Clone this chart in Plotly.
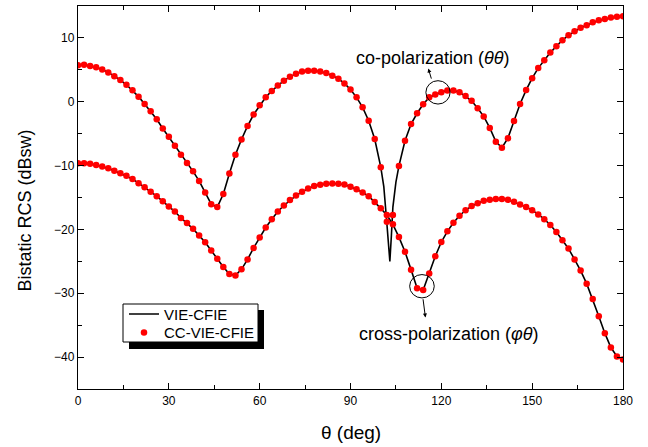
import plotly.graph_objects as go

# ---- data ----
theta = list(range(0, 181, 2))  # degrees, CC-VIE-CFIE sample points

co_pol = [5.73, 5.8, 5.6, 5.4, 5.06, 4.6, 4.0, 3.4, 2.66, 1.8,
          0.8, -0.36, -1.5, -2.75, -4.2, -5.5, -6.9, -8.3, -9.6, -10.9,
          -12.4, -14.2, -16.05, -16.5, -14.45, -11.25, -8.3, -5.9, -3.8, -2.0,
          -0.56, 0.7, 1.7, 2.56, 3.3, 3.9, 4.4, 4.75, 4.84, 4.84,
          4.75, 4.5, 4.06, 3.6, 2.87, 1.93, 0.69, -0.88, -2.97, -5.83,
          -10.25, -18.8, -17.75, -10.05, -6.1, -3.5, -1.8, -0.4, 0.69, 1.15,
          1.5, 1.78, 1.78, 1.5, 0.89, 0.16, -1.0, -2.3, -4.1, -6.25,
          -7.2, -5.7, -3.0, -0.36, 1.83, 3.7, 5.27, 6.5, 7.7, 8.7,
          9.64, 10.4, 11.05, 11.6, 12.0, 12.45, 12.77, 12.97, 13.18, 13.3,
          13.4]

cross_pol = [-9.63, -9.63, -9.7, -9.9, -10.15, -10.4, -10.8, -11.2, -11.6, -12.1,
             -12.75, -13.4, -14.1, -14.8, -15.6, -16.4, -17.2, -18.2, -19.0, -19.9,
             -20.97, -22.0, -23.3, -24.6, -25.9, -26.97, -27.2, -26.25, -24.7, -22.9,
             -21.25, -19.7, -18.4, -17.2, -16.25, -15.4, -14.7, -14.1, -13.6, -13.2,
             -13.0, -12.86, -12.8, -12.86, -12.97, -13.3, -13.7, -14.2, -14.8, -15.7,
             -16.7, -17.75, -19.2, -21.2, -23.5, -26.3, -29.2, -29.5, -26.9, -24.2,
             -21.97, -20.3, -18.95, -17.86, -17.0, -16.35, -15.9, -15.5, -15.36, -15.25,
             -15.25, -15.36, -15.67, -16.1, -16.5, -17.0, -17.65, -18.4, -19.3, -20.4,
             -21.7, -23.0, -24.7, -26.45, -28.5, -30.9, -33.6, -36.25, -38.5, -39.9,
             -40.36]

# VIE-CFIE line resolves the deep null near 103 deg
null_theta = [100, 101, 102, 102.5, 103, 103.5, 104, 105, 106]
null_db = [-10.25, -13.3, -19.0, -22.0, -25.0, -21.0, -16.5, -12.6, -10.05]

line_theta = [t for t in theta if t < 100] + null_theta + [t for t in theta if t > 106]
co_line = ([v for t, v in zip(theta, co_pol) if t < 100] + null_db +
           [v for t, v in zip(theta, co_pol) if t > 106])

x_ticks = [0, 30, 60, 90, 120, 150, 180]
y_ticks = [-40, -30, -20, -10, 0, 10]

FONT = "Arial, Liberation Sans, sans-serif"

fig = go.Figure()
fig.add_trace(go.Scatter(x=line_theta, y=co_line, mode="lines",
                         line=dict(color="black", width=1.6),
                         name="VIE-CFIE", legend="legend"))
fig.add_trace(go.Scatter(x=theta, y=cross_pol, mode="lines",
                         line=dict(color="black", width=1.6),
                         name="VIE-CFIE", showlegend=False))
fig.add_trace(go.Scatter(x=theta, y=co_pol, mode="markers",
                         marker=dict(color="#ff0000", size=6.5),
                         name="CC-VIE-CFIE", legend="legend2"))
fig.add_trace(go.Scatter(x=theta, y=cross_pol, mode="markers",
                         marker=dict(color="#ff0000", size=6.5),
                         name="CC-VIE-CFIE", showlegend=False))

L, R, T, B = 78, 25, 6, 58
W, H = 648, 447
pw, ph = W - L - R, H - T - B


def px2paper(px, py):
    return (px - L) / pw, (H - B - py) / ph


shapes = []
# legend shadow + box
sx0, sy0 = px2paper(129, 349)
sx1, sy1 = px2paper(264, 310)
shapes.append(dict(type="rect", xref="paper", yref="paper", x0=sx0, y0=sy0, x1=sx1, y1=sy1,
                   fillcolor="black", line=dict(width=0), layer="below"))
bx0, by0 = px2paper(123, 342)
bx1, by1 = px2paper(258, 304)
shapes.append(dict(type="rect", xref="paper", yref="paper", x0=bx0, y0=by0, x1=bx1, y1=by1,
                   fillcolor="white", line=dict(color="black", width=1), layer="below"))
# circles marking the curves
shapes.append(dict(type="circle", xref="x", yref="y", x0=118.9 - 4.0, x1=118.9 + 4.0,
                   y0=1.47 - 1.83, y1=1.47 + 1.83, line=dict(color="black", width=1)))
shapes.append(dict(type="circle", xref="x", yref="y", x0=113.6 - 4.06, x1=113.6 + 4.06,
                   y0=-28.9 - 1.83, y1=-28.9 + 1.83, line=dict(color="black", width=1)))

annotations = [
    dict(x=115.7, y=5.2, ax=116.85, ay=3.39, xref="x", yref="y", axref="x", ayref="y",
         showarrow=True, arrowhead=2, arrowsize=0.8, arrowwidth=1, arrowcolor="black", text=""),
    dict(x=114.75, y=-33.8, ax=113.9, ay=-30.7, xref="x", yref="y", axref="x", ayref="y",
         showarrow=True, arrowhead=2, arrowsize=0.8, arrowwidth=1, arrowcolor="black", text=""),
    dict(x=117.2, y=6.83, xref="x", yref="y", showarrow=False,
         text="co-polarization (<i>θθ</i>)", font=dict(family=FONT, size=18, color="black")),
    dict(x=122.4, y=-36.45, xref="x", yref="y", showarrow=False,
         text="cross-polarization (<i>φθ</i>)", font=dict(family=FONT, size=18, color="black")),
    dict(x=(24.5 - L) / pw, y=(H - B - 211) / ph, xref="paper", yref="paper", showarrow=False,
         xanchor="center", yanchor="middle", textangle=-90,
         text="Bistatic RCS (dBsw)", font=dict(family=FONT, size=18, color="black")),
    dict(x=0.5, y=(H - B - 432) / ph, xref="paper", yref="paper", showarrow=False,
         xanchor="center", yanchor="middle",
         text="θ (deg)", font=dict(family=FONT, size=19, color="black")),
]

axis_common = dict(showline=True, linecolor="black", linewidth=1.3, mirror="allticks",
                   ticks="inside", ticklen=6, tickwidth=1.2, tickcolor="black",
                   showgrid=False, zeroline=False,
                   tickfont=dict(family=FONT, size=12, color="black"))

leg_common = dict(xanchor="left", yanchor="middle", bgcolor="rgba(0,0,0,0)", borderwidth=0,
                  font=dict(family=FONT, size=15, color="black"))

fig.update_layout(
    width=W, height=H,
    margin=dict(l=L, r=R, t=T, b=B),
    paper_bgcolor="white", plot_bgcolor="white",
    font=dict(family=FONT, color="black"),
    xaxis=dict(range=[0, 180], tickvals=x_ticks,
               minor=dict(dtick=15, tick0=0, ticks="inside", ticklen=3.5, tickcolor="black"),
               **axis_common),
    yaxis=dict(range=[-45, 15], tickvals=y_ticks,
               minor=dict(dtick=5, tick0=0, ticks="inside", ticklen=3.5, tickcolor="black"),
               **axis_common),
    showlegend=True,
    legend=dict(x=(124 - L) / pw, y=(H - B - 314.3) / ph, **leg_common),
    legend2=dict(x=(124 - L) / pw, y=(H - B - 332.7) / ph, **leg_common),
    shapes=shapes,
    annotations=annotations,
)

fig.write_html("out.html")
